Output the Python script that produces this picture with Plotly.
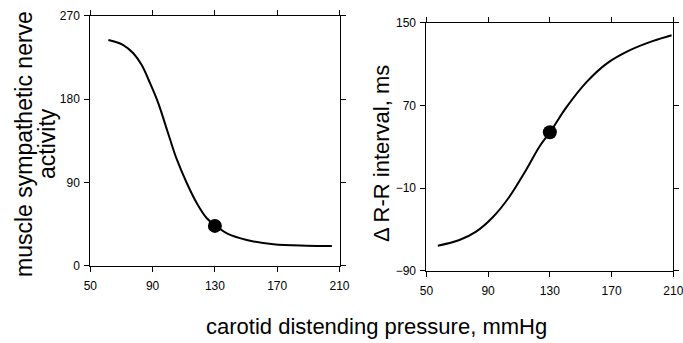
import plotly.graph_objects as go

# Left panel: muscle sympathetic nerve activity vs carotid distending pressure
msna_x = [61.6, 71.2, 77.6, 83.0, 88.4, 93.7, 99.1, 101.2, 105.5, 112.0, 118.4, 124.8, 130.8,
          137.7, 150.5, 167.6, 189.0, 205.1]
msna_y = [243.7, 238.3, 229.4, 216.7, 197.0, 175.4, 147.5, 136.5, 115.0, 89.0, 67.4, 51.2, 42.9,
          35.0, 27.8, 23.1, 21.6, 21.3]
msna_point_x = [130]
msna_point_y = [43]

# Right panel: delta R-R interval vs carotid distending pressure
rr_x = [57.4, 71.4, 82.2, 93.0, 103.8, 114.6, 123.2, 130.1, 140.9, 153.9, 166.8, 181.9,
        197.0, 208.9]
rr_y = [-65.8, -60.3, -52.2, -38.3, -18.4, 7.5, 30.0, 44.0, 68.5, 92.7, 110.4, 123.4,
        132.4, 137.9]
rr_point_x = [130]
rr_point_y = [44]

x_ticks = [50, 90, 130, 170, 210]
msna_ticks = [0, 90, 180, 270]
rr_ticks = [-90, -10, 70, 150]

FONT = "Liberation Sans, Arial, Helvetica, sans-serif"
W, H = 683, 343

fig = go.Figure()
fig.add_trace(go.Scatter(x=msna_x, y=msna_y, mode="lines", line=dict(color="black", width=2, shape="spline", smoothing=1.0),
                         xaxis="x", yaxis="y", showlegend=False, hoverinfo="skip"))
fig.add_trace(go.Scatter(x=msna_point_x, y=msna_point_y, mode="markers",
                         marker=dict(color="black", size=14), xaxis="x", yaxis="y", showlegend=False))
fig.add_trace(go.Scatter(x=rr_x, y=rr_y, mode="lines", line=dict(color="black", width=2, shape="spline", smoothing=1.0),
                         xaxis="x2", yaxis="y2", showlegend=False, hoverinfo="skip"))
fig.add_trace(go.Scatter(x=rr_point_x, y=rr_point_y, mode="markers",
                         marker=dict(color="black", size=14), xaxis="x2", yaxis="y2", showlegend=False))

axis_common = dict(showline=True, linecolor="black", linewidth=1, mirror="ticks", ticks="outside",
                   ticklen=5, tickcolor="black", tickwidth=1, showgrid=False, zeroline=False,
                   automargin=False, ticklabeloverflow="allow",
                   tickfont=dict(family=FONT, size=12, color="black"))

fig.update_layout(
    width=W, height=H,
    autosize=False,
    margin=dict(l=0, r=0, t=0, b=0, pad=0, autoexpand=False),
    paper_bgcolor="white", plot_bgcolor="white",
    showlegend=False,
    xaxis=dict(domain=[90.3 / W, 339.5 / W], range=[50, 210], tickvals=x_ticks, anchor="y",
               ticklabelstandoff=4, **axis_common),
    yaxis=dict(domain=[1 - 265.7 / H, 1 - 15.7 / H], range=[0, 270], tickvals=msna_ticks, anchor="x",
               ticklabelstandoff=2, **axis_common),
    xaxis2=dict(domain=[426.4 / W, 673.3 / W], range=[50, 210], tickvals=x_ticks, anchor="y2",
                ticklabelstandoff=4, **axis_common),
    yaxis2=dict(domain=[1 - 270.7 / H, 1 - 22.7 / H], range=[-90, 150], tickvals=rr_ticks, anchor="x2",
                ticklabelstandoff=2, **axis_common),
    annotations=[
        dict(text="muscle sympathetic nerve", x=24 / W, y=1 - 144 / H, xref="paper", yref="paper",
             textangle=-90, showarrow=False, xanchor="center", yanchor="middle",
             font=dict(family=FONT, size=23, color="black")),
        dict(text="activity", x=47 / W, y=1 - 144 / H, xref="paper", yref="paper",
             textangle=-90, showarrow=False, xanchor="center", yanchor="middle",
             font=dict(family=FONT, size=23, color="black")),
        dict(text="Δ R-R interval, ms", x=381 / W, y=1 - 154 / H, xref="paper", yref="paper",
             textangle=-90, showarrow=False, xanchor="center", yanchor="middle",
             font=dict(family=FONT, size=22, color="black")),
        dict(text="carotid distending pressure, mmHg", x=376 / W, y=1 - 326 / H, xref="paper", yref="paper",
             showarrow=False, xanchor="center", yanchor="middle",
             font=dict(family=FONT, size=22, color="black")),
    ],
)

fig.write_html("out.html")
